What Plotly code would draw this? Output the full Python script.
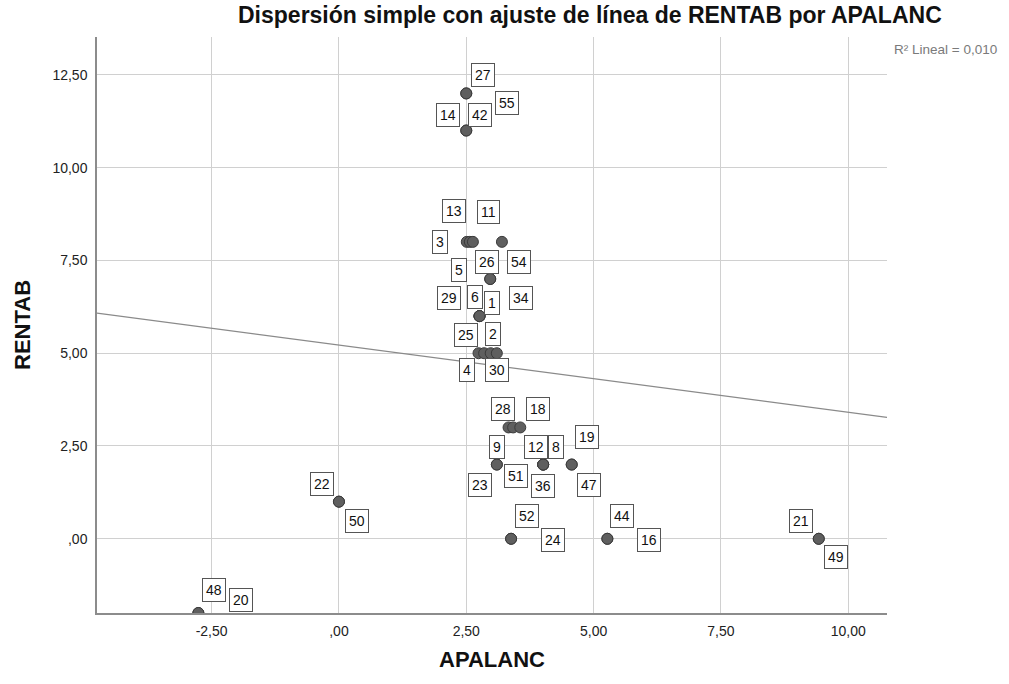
import plotly.graph_objects as go

# ---- data ----
case_ids = [27, 55, 14, 42, 3, 13, 5, 11, 26, 54, 29, 6, 1, 34, 25, 4, 2, 30,
            28, None, 18, 9, 23, 12, 51, 36, 8, 19, 47, 52, 24, 44, 16, 21, 49,
            22, 50, 48, 20]
apalanc = [2.50, 2.50, 2.50, 2.50, 2.51, 2.57, 2.63, 3.20, 2.97, 2.97, 2.76, 2.76,
           2.76, 2.76, 2.74, 2.85, 2.98, 3.10, 3.33, 3.42, 3.56, 3.10, 3.10, 4.01,
           4.01, 4.01, 4.01, 4.57, 4.57, 3.38, 3.38, 5.27, 5.27, 9.42, 9.42,
           0.00, 0.00, -2.76, -2.76]
rentab = [12, 12, 11, 11, 8, 8, 8, 8, 7, 7, 6, 6, 6, 6, 5, 5, 5, 5, 3, 3, 3, 2, 2,
          2, 2, 2, 2, 2, 2, 0, 0, 0, 0, 0, 0, 1, 1, -2, -2]

fit_intercept = 5.22
fit_slope = -0.181
r2_text = "R² Lineal = 0,010"

x_tickvals = [-2.5, 0, 2.5, 5, 7.5, 10]
x_ticktext = ["-2,50", ",00", "2,50", "5,00", "7,50", "10,00"]
y_tickvals = [0, 2.5, 5, 7.5, 10, 12.5]
y_ticktext = [",00", "2,50", "5,00", "7,50", "10,00", "12,50"]

x_range = [-4.75, 10.76]
y_range = [-2.0, 13.52]

# label placement (pixel offsets right, down) – layout only
label_offsets = {
    27: (17, -18), 55: (41, 10), 14: (-18, -16), 42: (14, -16),
    3: (-27, 0), 13: (-16, -31), 5: (-14, 28), 11: (-13, -30),
    26: (-3, -17), 54: (29, -17),
    29: (-31, -18), 6: (-5, -19), 1: (12, -13), 34: (41, -18),
    25: (-13, -18), 4: (-17, 17), 2: (2, -19), 30: (0, 17),
    28: (-6, -18), 18: (18, -18),
    9: (0, -18), 23: (-17, 20), 12: (-7, -18), 51: (-27, 11), 36: (0, 21),
    8: (13, -18), 19: (15, -28), 47: (17, 20),
    52: (16, -23), 24: (42, 1), 44: (15, -23), 16: (42, 1),
    21: (-18, -18), 49: (17, 18),
    22: (-17, -18), 50: (18, 19),
    48: (16, -23), 20: (43, -13),
}

FONT = "Liberation Sans, Arial, sans-serif"
W, H = 1009, 684
L, R, T, B = 97, 122, 37, 71

fig = go.Figure()

fit_x = x_range
fit_y = [fit_intercept + fit_slope * v for v in fit_x]
fig.add_trace(go.Scatter(x=fit_x, y=fit_y, mode="lines",
                         line=dict(color="#8a8a8a", width=1.3),
                         hoverinfo="skip", showlegend=False))

fig.add_trace(go.Scatter(x=apalanc, y=rentab, mode="markers",
                         marker=dict(size=11, color="#5f5f5f",
                                     line=dict(color="#3a3a3a", width=1)),
                         showlegend=False))

annotations = []
for cid, xv, yv in zip(case_ids, apalanc, rentab):
    if cid is None:
        continue
    dx, dy = label_offsets[cid]
    annotations.append(dict(
        x=xv, y=yv, xref="x", yref="y", text=str(cid), showarrow=False,
        xshift=dx, yshift=-dy,
        font=dict(family=FONT, size=14, color="#111111"),
        bgcolor="white", bordercolor="#555555", borderwidth=1, borderpad=3,
    ))

pw, ph = W - L - R, H - T - B
annotations.append(dict(
    x=(892 - L) / pw, y=(H - B - 50) / ph, xref="paper", yref="paper", text=r2_text,
    showarrow=False, xanchor="left", yanchor="middle",
    font=dict(family=FONT, size=13.5, color="#7a7a7a"),
))

fig.update_layout(
    width=W, height=H,
    margin=dict(l=L, r=R, t=T, b=B, autoexpand=False),
    paper_bgcolor="white", plot_bgcolor="white",
    title=dict(text="<b>Dispersión simple con ajuste de línea de RENTAB por APALANC</b>",
               x=(238 - L) / pw, xref="paper", xanchor="left",
               y=1 - 15 / H, yanchor="middle", automargin=False,
               font=dict(family=FONT, size=23, color="#111111")),
    annotations=annotations,
    xaxis=dict(range=x_range, tickvals=x_tickvals, ticktext=x_ticktext,
               showgrid=True, gridcolor="#d0d0d0", gridwidth=1, automargin=False,
               zeroline=False, showline=True, linecolor="#8c8c8c", linewidth=1.5,
               ticks="", ticklabelstandoff=4,
               tickfont=dict(family=FONT, size=14, color="#222222"),
               title=dict(text="<b>APALANC</b>",
                          font=dict(family=FONT, size=22, color="#111111"),
                          standoff=14)),
    yaxis=dict(range=y_range, tickvals=y_tickvals, ticktext=y_ticktext,
               showgrid=True, gridcolor="#d0d0d0", gridwidth=1, automargin=False,
               zeroline=False, showline=True, linecolor="#8c8c8c", linewidth=1.5,
               ticks="", ticklabelstandoff=5,
               tickfont=dict(family=FONT, size=14, color="#222222"),
               title=dict(text="<b>RENTAB</b>",
                          font=dict(family=FONT, size=22, color="#111111"),
                          standoff=16)),
)

fig.write_html("out.html", config={"displayModeBar": False},
               post_script="document.body.style.margin='0';")
